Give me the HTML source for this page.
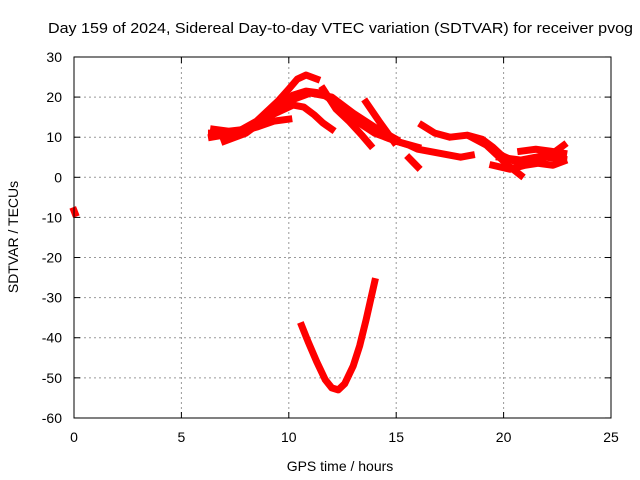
<!DOCTYPE html>
<html><head><meta charset="utf-8"><style>
body{margin:0;background:#fff}
svg{display:block;font-family:"Liberation Sans",sans-serif}
</style></head><body>
<svg id="c" width="640" height="480" xmlns="http://www.w3.org/2000/svg">
<rect width="640" height="480" fill="#fff"/>
<text x="48" y="33" font-size="15" textLength="585" lengthAdjust="spacingAndGlyphs">Day 159 of 2024, Sidereal Day-to-day VTEC variation (SDTVAR) for receiver pvog</text>
<text x="340" y="471" font-size="14" text-anchor="middle">GPS time / hours</text>
<text transform="translate(18,237) rotate(-90)" font-size="14" text-anchor="middle">SDTVAR / TECUs</text>
<g id="grid"></g><g id="data"></g>
<rect x="74" y="57" width="537" height="361" fill="none" stroke="#000" stroke-width="1"/>
</svg>
<script>
const xTicks=[0,5,10,15,20,25];
const yTicks=[30,20,10,0,-10,-20,-30,-40,-50,-60];
const seriesA=[[6.4,11],[7.5,11],[8.5,14],[9.5,19],[10,22],[10.4,24.5],[10.8,25.5],[11.3,24.5]];
const seriesB=[[6.4,10],[7.5,11],[8.5,13.5],[9.5,18],[10.2,20.5],[10.8,21.5],[11.5,21],[12.2,18.5],[12.8,16],[13.5,13],[14.5,10],[15,9],[15.6,8],[16,7],[17,6],[18,5],[18.5,5.5]];
const seriesC=[[7,9],[8,11],[9,15],[9.6,16.5],[10.2,18],[10.7,17.5],[11.2,15.5],[11.6,13.5],[12,12]];
const seriesD=[[7.5,11],[8.5,12.5],[9.3,14],[10,14.5]];
const seriesE=[[11.6,22],[12.2,17],[12.8,14],[13.4,10.5],[13.8,8]];
const seriesF=[[13.6,18.7],[14.2,14],[14.9,8.8]];
const seriesG=[[16.2,13],[16.8,11],[17.5,10],[18.3,10.5],[19,9.5],[19.5,7.5],[19.9,5.5],[20.5,4],[21.5,5],[22.3,6],[22.8,8]];
const seriesH=[[15.6,4.8],[16,2.6]];
const seriesI=[[18.5,10],[19.2,8],[19.7,5.5],[20.2,3],[20.8,0.5]];
const seriesJ=[[19.8,5],[20.5,4.5],[21.2,4],[22,5],[22.8,4.5]];
const seriesK=[[12,19],[13,14.5],[14,11],[15,9],[16,7.5]];
const seriesL=[[6.5,12],[7.2,11.5],[8,12],[9,15],[10,19],[11,21],[12,20],[13,16],[14,12.5],[15,9.5]];
const seriesM=[[19.5,3],[20.3,2],[21,3],[21.6,3.5],[22.3,3],[22.8,4]];
const seriesN=[[20.8,6.5],[21.5,7],[22.2,6.5],[22.8,6]];
const seriesNeg=[[10.6,-37],[10.9,-41],[11.3,-46],[11.7,-50.5],[12,-52.5],[12.3,-53],[12.6,-51.5],[13,-47],[13.3,-42],[13.6,-35.5],[14,-26]];
const seriesStart=[[0,-8.3],[0.05,-9]];
const X=h=>74+h*21.48, Y=v=>177.3-v*4.011;
const NS="http://www.w3.org/2000/svg";
const g=document.getElementById('grid'), d=document.getElementById('data');
function mk(t,a,p){const e=document.createElementNS(NS,t);for(const k in a)e.setAttribute(k,a[k]);p.appendChild(e);return e;}
xTicks.forEach(t=>{const x=X(t);
 if(t>0&&t<25){const l=mk('line',{x1:x,x2:x,y1:57,y2:418,stroke:'#999','stroke-dasharray':'2,3'},g);}
 mk('line',{x1:x,x2:x,y1:418,y2:412,stroke:'#000'},g);mk('line',{x1:x,x2:x,y1:57,y2:63,stroke:'#000'},g);
 const tx=mk('text',{x:x,y:442,'font-size':14,'text-anchor':'middle'},g);tx.textContent=t;
 });
yTicks.forEach(t=>{const y=Y(t);
 if(t<30&&t>-60){const l=mk('line',{x1:74,x2:611,y1:y,y2:y,stroke:'#999','stroke-dasharray':'2,3'},g);}
 mk('line',{x1:74,x2:80,y1:y,y2:y,stroke:'#000'},g);mk('line',{x1:605,x2:611,y1:y,y2:y,stroke:'#000'},g);
 const tx=mk('text',{x:62,y:y+5,'font-size':14,'text-anchor':'end'},g);tx.textContent=t;
 });
[seriesA,seriesB,seriesC,seriesD,seriesE,seriesF,seriesG,seriesH,seriesI,seriesJ,seriesK,seriesL,seriesM,seriesN,seriesNeg,seriesStart].forEach((s,i)=>{
 const p=mk('polyline',{points:s.map(q=>X(q[0])+','+Y(q[1])).join(' '),fill:'none',stroke:'#f00','stroke-width':7,'stroke-linejoin':'round','stroke-linecap':'square'},d);
 
 });
</script>
</body></html>
